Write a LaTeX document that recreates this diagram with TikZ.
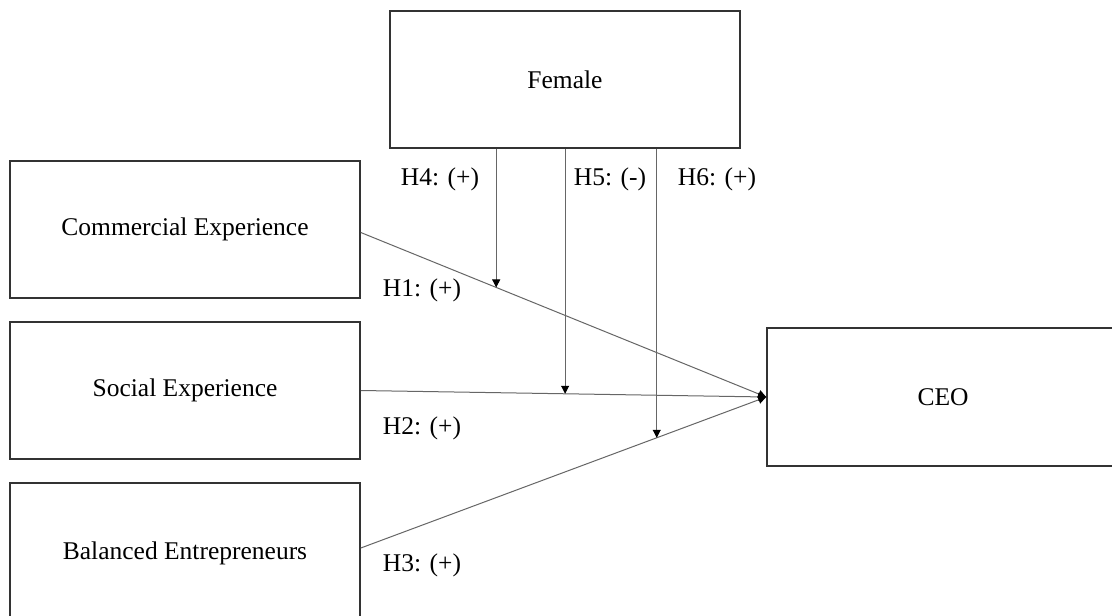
\documentclass[tikz,border=0pt]{standalone}
\usepackage{fontspec}
\setmainfont{Liberation Serif}
\usetikzlibrary{arrows.meta}
\begin{document}
\begin{tikzpicture}[x=1pt,y=-1pt,
  box/.style={draw=black!80, line width=1.6pt, rectangle, inner sep=0pt,
    font=\fontsize{25.5}{30}\selectfont},
  conn/.style={draw=black!60, line width=1pt},
  arr/.style={conn, -{Triangle[width=8pt,length=8pt,color=black]}},
  lbl/.style={font=\fontsize{25.5}{30}\selectfont, inner sep=0pt}]
\useasboundingbox (0,0) rectangle (1112,616);
\clip (0,0) rectangle (1112,616);
\fill[white] (0,0) rectangle (1112,616);

\node[box, minimum width=350pt, minimum height=137pt] (fem) at (565,79.5) {Female};
\node[box, minimum width=350pt, minimum height=137pt] (ce) at (185,229.5) {Commercial Experience};
\node[box, minimum width=350pt, minimum height=137pt] (se) at (185,390.5) {Social Experience};
\node[box, minimum width=350pt, minimum height=140pt] (be) at (185,553) {Balanced Entrepreneurs};
\node[box, minimum width=352pt, minimum height=138pt] (ceo) at (943,397) {CEO};

\draw[arr] ([yshift=-3pt]ce.east) -- coordinate[pos=0.334] (m1) (ceo.west);
\draw[arr] (se.east) -- coordinate[pos=0.504] (m2) (ceo.west);
\draw[arr] ([yshift=5pt]be.east) -- coordinate[pos=0.73] (m3) (ceo.west);

\draw[arr] (fem.south -| m1) -- (m1);
\draw[arr] (fem.south -| m2) -- (m2);
\draw[arr] (fem.south -| m3) -- (m3);

\node[lbl] (h4) at (440,179) {H4: (+)};
\node[lbl] (h5) at (610,179) {H5: (-)};
\node[lbl] (h6) at (717,179) {H6: (+)};
\node[lbl] (h1) at (422,290) {H1: (+)};
\node[lbl] (h2) at (422,428) {H2: (+)};
\node[lbl] (h3) at (422,565) {H3: (+)};
\end{tikzpicture}
\end{document}
